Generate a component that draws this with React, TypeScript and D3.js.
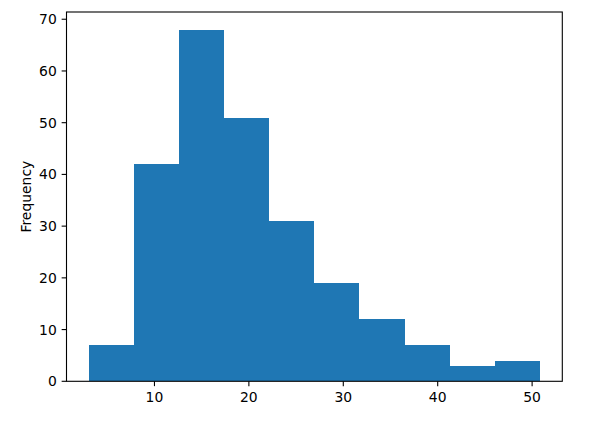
import React from "react";
import * as d3 from "d3";

const binEdges = [3.07, 7.844, 12.618, 17.392, 22.166, 26.94, 31.714, 36.488, 41.262, 46.036, 50.81];
const counts = [7, 42, 68, 51, 31, 19, 12, 7, 3, 4];
const xTicks = [10, 20, 30, 40, 50];
const yTicks = [0, 10, 20, 30, 40, 50, 60, 70];
const yLabel = "Frequency";

export default function App() {
  const W = 604, H = 427;
  const left = 66.5, right = 562.3, top = 12, bottom = 381.3;
  const span = binEdges[binEdges.length - 1] - binEdges[0];
  const x = d3.scaleLinear()
    .domain([binEdges[0] - span * 0.05, binEdges[binEdges.length - 1] + span * 0.05])
    .range([left, right]);
  const maxC = d3.max(counts) as number;
  const y = d3.scaleLinear().domain([0, maxC * 1.05]).range([bottom, top]);
  const font = "DejaVu Sans, sans-serif";
  const fs = 13.9;
  const tickLen = 4.86;
  return (
    <svg width={W} height={H} style={{ position: "absolute", left: 0, top: 0 }}>
      <rect x={0} y={0} width={W} height={H} fill="#fff" />
      {counts.map((c, i) => (
        <rect key={i}
          x={x(binEdges[i])}
          y={y(c)}
          width={x(binEdges[i + 1]) - x(binEdges[i])}
          height={y(0) - y(c)}
          fill="#1f77b4"
          shapeRendering="crispEdges" />
      ))}
      <rect x={left} y={top} width={right - left} height={bottom - top} fill="none" stroke="#000" strokeWidth={1.1} />
      {xTicks.map(t => (
        <g key={t}>
          <line x1={x(t)} x2={x(t)} y1={bottom} y2={bottom + tickLen} stroke="#000" strokeWidth={1.1} />
          <text x={x(t)} y={bottom + tickLen + 4.86} dy="0.76em" textAnchor="middle" fontFamily={font} fontSize={fs} fill="#000">{t}</text>
        </g>
      ))}
      {yTicks.map(t => (
        <g key={t}>
          <line x1={left - tickLen} x2={left} y1={y(t)} y2={y(t)} stroke="#000" strokeWidth={1.1} />
          <text x={left - tickLen - 4.86} y={y(t)} dy="0.36em" textAnchor="end" fontFamily={font} fontSize={fs} fill="#000">{t}</text>
        </g>
      ))}
      <text transform={`translate(${31},${(top + bottom) / 2}) rotate(-90)`} textAnchor="middle" fontFamily={font} fontSize={fs} fill="#000">{yLabel}</text>
    </svg>
  );
}
